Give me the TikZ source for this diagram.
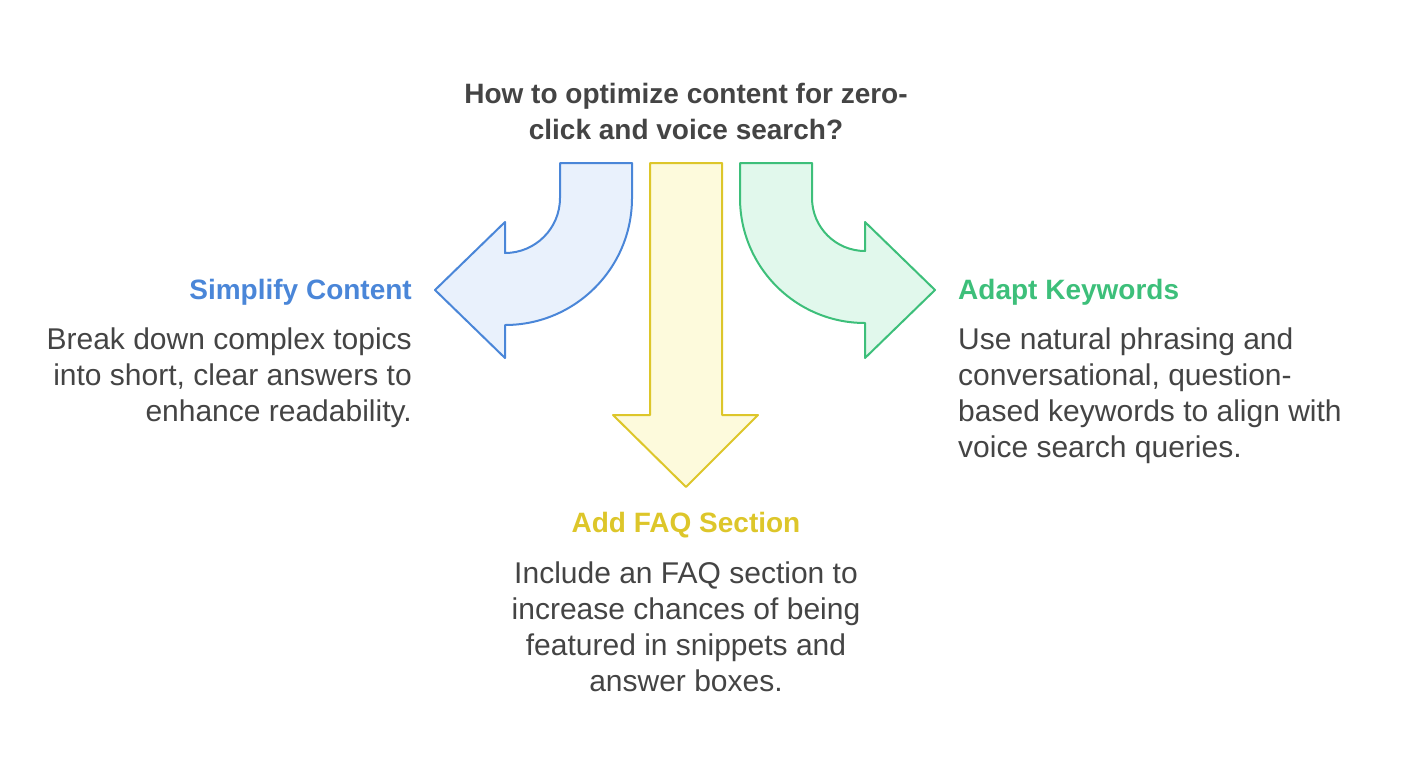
\documentclass[tikz,border=0pt]{standalone}
\usepackage{fontspec}
\setmainfont{Liberation Sans}
\usetikzlibrary{positioning}
\definecolor{txtgray}{HTML}{444444}
\definecolor{blueline}{HTML}{4A86D8}
\definecolor{bluefill}{HTML}{E9F1FC}
\definecolor{yelline}{HTML}{DDC62A}
\definecolor{yelfill}{HTML}{FDFADC}
\definecolor{grnline}{HTML}{3DBF7A}
\definecolor{grnfill}{HTML}{E1F8EC}
\tikzset{
  arrowshape/.style={line width=2pt, line join=round},
  head/.style={font=\fontsize{28}{36}\selectfont\bfseries, inner sep=0pt},
  body/.style={font=\fontsize{30}{36}\selectfont, text=txtgray, inner sep=0pt}
}
\begin{document}
\begin{tikzpicture}[x=1pt, y=-1pt]
\useasboundingbox (0,0) rectangle (1407,777);
% curved arrow to the left
\draw [arrowshape, draw=blueline, fill=bluefill]
  (560,163) -- (632,163) -- (632,198) arc (0:90:127) -- (505,358) -- (435,290)
  -- (505,222) -- (505,253) arc (90:0:55) -- cycle;
% straight arrow down
\draw [arrowshape, draw=yelline, fill=yelfill]
  (650,163) -- (722,163) -- (722,415) -- (758,415) -- (686,487) -- (613,415) -- (650,415) -- cycle;
% curved arrow to the right
\draw [arrowshape, draw=grnline, fill=grnfill]
  (812,163) -- (740,163) -- (740,198) arc (180:90:125) -- (865,358) -- (935,290)
  -- (865,222) -- (865,251) arc (90:180:53) -- cycle;
% texts
\node (title) [head, text=txtgray, align=center] at (686,111)
  {How to optimize content for zero-\\click and voice search?};
\node (simplify) [head, text=blueline, anchor=east] at (412,292) {Simplify Content};
\node (simplifytxt) [body, align=right, anchor=north east] at (412,328)
  {Break down complex topics\\into short, clear answers to\\enhance readability.};
\node (adapt) [head, text=grnline, anchor=west] at (958,292) {Adapt Keywords};
\node (adapttxt) [body, align=left, anchor=north west] at (958,328)
  {Use natural phrasing and\\conversational, question-\\based keywords to align with\\voice search queries.};
\node (faq) [head, text=yelline, anchor=center] at (686,525) {Add FAQ Section};
\node (faqtxt) [body, align=center, anchor=north] at (686,562)
  {Include an FAQ section to\\increase chances of being\\featured in snippets and\\answer boxes.};
\end{tikzpicture}
\end{document}
